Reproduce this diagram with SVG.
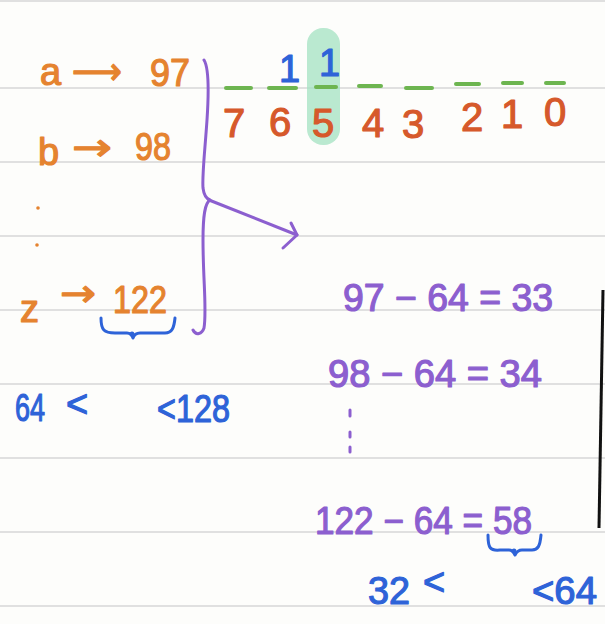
<svg xmlns="http://www.w3.org/2000/svg" width="605" height="624" viewBox="0 0 605 624">
<style>
text{font-family:"Liberation Sans","DejaVu Sans",sans-serif;font-size:38px;stroke-width:1.2;stroke-linejoin:round}
.arr{font-family:"DejaVu Sans",sans-serif}
.or{fill:#e5832f;stroke:#e5832f}
.rd{fill:#d6592b;stroke:#d6592b;text-anchor:middle;font-size:40px}
.pu{fill:#8c5fcf;stroke:#8c5fcf}
.bl{fill:#2e63d8;stroke:#2e63d8}
.rule{stroke:#e0e0e0;stroke-width:2}
.dash{stroke:#6db550;stroke-width:4;stroke-linecap:round}
.pl{fill:none;stroke:#8c5fcf;stroke-width:3;stroke-linecap:round;stroke-linejoin:round}
.bb{fill:none;stroke:#2e63d8;stroke-width:3;stroke-linecap:round;stroke-linejoin:round}
</style>
<rect width="605" height="624" fill="#fdfdfb"/>
<g id="paper">
<line class="rule" x1="0" y1="1" x2="605" y2="1"/>
<line class="rule" x1="0" y1="88" x2="605" y2="88"/>
<line class="rule" x1="0" y1="162" x2="605" y2="162"/>
<line class="rule" x1="0" y1="236" x2="605" y2="236"/>
<line class="rule" x1="0" y1="310" x2="605" y2="310"/>
<line class="rule" x1="0" y1="384" x2="605" y2="384"/>
<line class="rule" x1="0" y1="458" x2="605" y2="458"/>
<line class="rule" x1="0" y1="532" x2="605" y2="532"/>
<line class="rule" x1="0" y1="606" x2="605" y2="606"/>
<line x1="603" y1="290" x2="599" y2="528" stroke="#111" stroke-width="3"/>
</g>
<g id="mapping">
<text class="or" x="40" y="85" font-size="42">a</text>
<text class="or arr" x="72" y="84" textLength="50" lengthAdjust="spacingAndGlyphs">⟶</text>
<text class="or" x="150" y="86" textLength="40" lengthAdjust="spacingAndGlyphs">97</text>
<text class="or" x="38" y="165" font-size="42">b</text>
<text class="or arr" x="72" y="160" textLength="40" lengthAdjust="spacingAndGlyphs">→</text>
<text class="or" x="135" y="160" textLength="36" lengthAdjust="spacingAndGlyphs">98</text>
<circle cx="38" cy="208" r="1.8" fill="#e5832f"/>
<circle cx="37" cy="245" r="1.8" fill="#e5832f"/>
<text class="or" x="20" y="322" font-size="42">z</text>
<text class="or arr" x="60" y="306" textLength="36" lengthAdjust="spacingAndGlyphs">→</text>
<text class="or" x="113" y="313" textLength="54" lengthAdjust="spacingAndGlyphs">122</text>
</g>
<g id="range1">
<path class="bb" d="M101,318 C101,330 104,333 115,333 L127,333 C130,333 132,335 133,338 C134,335 136,333 140,333 L165,333 C172,333 174,328 175,318"/>
<circle cx="132" cy="334" r="2.5" fill="#2e63d8"/>
<text class="bl" x="15" y="421" textLength="30" lengthAdjust="spacingAndGlyphs">64</text>
<text class="bl" x="66" y="417">&lt;</text>
<text class="bl" x="157" y="422" textLength="73" lengthAdjust="spacingAndGlyphs">&lt;128</text>
</g>
<g id="bits">
<rect x="307" y="28" width="33" height="117" rx="16" fill="#a3e2c2" opacity="0.75"/>
<line class="dash" x1="226" y1="88" x2="251" y2="88"/>
<line class="dash" x1="269" y1="88" x2="296" y2="88"/>
<line class="dash" x1="316" y1="87" x2="336" y2="87"/>
<line class="dash" x1="359" y1="86" x2="381" y2="86"/>
<line class="dash" x1="406" y1="88" x2="432" y2="88"/>
<line class="dash" x1="456" y1="84" x2="479" y2="84"/>
<line class="dash" x1="503" y1="83" x2="522" y2="83"/>
<line class="dash" x1="546" y1="83" x2="564" y2="83"/>
<text class="bl" x="279" y="82">1</text>
<text class="bl" x="319" y="76">1</text>
<text class="rd" x="234" y="137">7</text>
<text class="rd" x="280" y="136">6</text>
<text class="rd" x="323" y="137">5</text>
<text class="rd" x="373" y="137">4</text>
<text class="rd" x="413" y="138">3</text>
<text class="rd" x="472" y="131">2</text>
<text class="rd" x="512" y="128">1</text>
<text class="rd" x="555" y="126">0</text>
</g>
<g id="connectors">
<path class="pl" d="M204,60 C209,68 209,90 207,120 C205,150 202,175 203,188 C204,196 207,199 210,200 C205,203 203,215 203,240 C203,280 207,310 204,328 C202,334 196,336 193,330"/>
<path class="pl" d="M209,200 L297,235"/>
<path class="pl" d="M291,223 L297,235 L283,248"/>
</g>
<g id="equations">
<text class="pu" x="343" y="311" textLength="210" lengthAdjust="spacingAndGlyphs">97 − 64 = 33</text>
<text class="pu" x="328" y="387" textLength="214" lengthAdjust="spacingAndGlyphs">98 − 64 = 34</text>
<path d="M350,410 L350,416 M350,432 L350,437 M350,447 L350,452" stroke="#8c5fcf" stroke-width="3" stroke-linecap="round"/>
<text class="pu" x="315" y="534" textLength="217" lengthAdjust="spacingAndGlyphs">122 − 64 = 58</text>
</g>
<g id="range2">
<path class="bb" d="M488,535 C488,548 490,551 500,550 L509,550 C512,550 514,553 515,555 C516,553 518,550 522,550 L532,550 C538,550 540,546 541,535"/>
<circle cx="514" cy="551" r="2.5" fill="#2e63d8"/>
<text class="bl" x="368" y="604" textLength="42" lengthAdjust="spacingAndGlyphs">32</text>
<text class="bl" x="423" y="595">&lt;</text>
<text class="bl" x="532" y="604" textLength="65" lengthAdjust="spacingAndGlyphs">&lt;64</text>
</g>
</svg>
